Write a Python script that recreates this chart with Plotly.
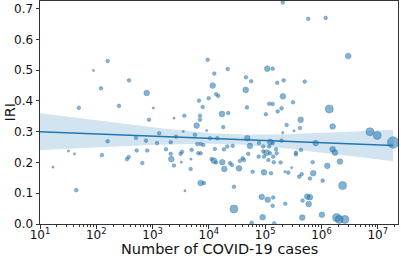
import numpy as np
import plotly.graph_objects as go

# COVID-19 cases (x), IRI (y), relative marker class (1=tiny .. 5=very large)
cases = [159, 89, 381, 121, 785, 49, 253, 1030,
         9530, 21600, 109000, 136000, 12500, 45600, 56600, 164000, 11700, 45100,
         13500, 14700, 9910, 6670, 7760, 47500, 118000, 136000, 167000, 17100,
         22100, 103000, 205000, 583000, 1190000, 2990000, 213000, 504000, 207000,
         312000, 196000, 1380000, 863, 159, 507, 764, 1200, 1310, 32, 41, 126,
         522, 805, 351, 376, 656, 17, 44, 3660, 6950, 6950, 2400, 6070, 18000,
         9140, 3510, 5660, 2610, 10500, 14100, 48100, 2100, 6220, 7150, 7960,
         21200, 26500, 53700, 77600, 92500, 118000, 136000, 122000, 1730, 4940,
         12800, 18500, 92500, 106000, 122000, 156000, 2100, 3150, 3330, 6490,
         7150, 50100, 76700, 95300, 139000, 160000, 2150, 4810, 11200, 12300,
         13400, 17300, 23700, 25700, 35600, 39800, 42000, 114000, 142000, 3240,
         2400, 4750, 18800, 34300, 60000, 95300, 127000, 7150, 8190, 27900, 3760,
         86700, 111000, 139000, 27900, 90300, 57500, 145000, 427000, 241000,
         415000, 325000, 205000, 1580000, 7260000, 9790000, 18800000, 196000,
         789000, 1580000, 1740000, 352000, 352000, 432000, 188000, 698000,
         2130000, 1270000, 296000, 225000, 257000, 714000, 445000, 403000,
         625000, 1050000, 2380000, 560000, 625000, 463000, 593000, 228000,
         456000, 1020000, 1860000, 2070000, 2610000, 136000]
iri = [0.530, 0.499, 0.467, 0.441, 0.426, 0.378, 0.384, 0.377,
       0.534, 0.504, 0.505, 0.505, 0.489, 0.477, 0.464, 0.459, 0.450, 0.436,
       0.422, 0.416, 0.409, 0.401, 0.380, 0.379, 0.391, 0.390, 0.366, 0.358,
       0.361, 0.357, 0.720, 0.667, 0.670, 0.546, 0.467, 0.463, 0.415,
       0.396, 0.376, 0.374, 0.339, 0.269, 0.280, 0.271, 0.263, 0.295, 0.237, 0.228, 0.224,
       0.239, 0.239, 0.211, 0.218, 0.198, 0.185, 0.110, 0.352, 0.352, 0.339, 0.344, 0.320, 0.315,
       0.304, 0.301, 0.290, 0.284, 0.279, 0.279, 0.279, 0.266, 0.260, 0.260, 0.257,
       0.252, 0.254, 0.254, 0.263, 0.252, 0.252, 0.263, 0.267, 0.243, 0.241,
       0.244, 0.243, 0.236, 0.232, 0.230, 0.243, 0.228, 0.228, 0.235, 0.230,
       0.230, 0.228, 0.219, 0.219, 0.219, 0.230, 0.211, 0.211, 0.211, 0.206,
       0.200, 0.201, 0.198, 0.192, 0.205, 0.214, 0.208, 0.208, 0.201, 0.201,
       0.190, 0.179, 0.179, 0.181, 0.170, 0.168, 0.165, 0.133, 0.133, 0.121, 0.108,
       0.088, 0.079, 0.086, 0.049, 0.022, 0.004, 0.002, 0.339, 0.322,
       0.312, 0.303, 0.297, 0.317, 0.300, 0.288, 0.265, 0.271,
       0.263, 0.243, 0.232, 0.232, 0.226, 0.241, 0.200, 0.201,
       0.203, 0.189, 0.183, 0.170, 0.167, 0.165, 0.162, 0.154,
       0.148, 0.141, 0.125, 0.089, 0.087, 0.076, 0.065, 0.066,
       0.021, 0.030, 0.021, 0.015, 0.015, 0.059]
size_class = [2, 1, 2, 2, 3, 2, 2, 1,
              2, 2, 3, 2, 2, 2, 2, 2, 3, 3,
              2, 2, 2, 2, 2, 2, 2, 2, 2, 3,
              2, 2, 2, 2, 2, 3, 2, 2, 3,
              2, 2, 4, 2, 2, 2, 2, 2, 2, 1, 1, 2,
              2, 2, 2, 2, 2, 1, 2, 2, 2, 2, 1, 3, 2,
              1, 1, 2, 2, 2, 2, 3, 2, 2, 2, 2,
              2, 2, 3, 2, 2, 2, 2, 3, 2, 2,
              2, 2, 2, 3, 2, 2, 2, 2, 2, 2,
              2, 2, 2, 2, 2, 2, 3, 1, 2, 3,
              2, 3, 2, 2, 2, 2, 2, 2, 2, 1,
              2, 2, 3, 3, 2, 3, 2, 3, 2, 2, 1,
              3, 3, 2, 4, 3, 2, 2, 3, 2,
              2, 1, 1, 3, 4, 4, 5, 2,
              3, 3, 3, 2, 2, 2, 2, 2,
              3, 3, 1, 1, 2, 3, 2, 2,
              2, 2, 4, 3, 3, 2, 3, 2,
              3, 3, 4, 4, 4, 2]

# regression line and CI band (log10 cases)
fit_intercept = 0.307
fit_slope = -0.0071
ci_center = 4.4
ci_min_halfwidth = 0.016
ci_spread = 0.017

x_tick_vals = [10, 100, 1000, 10000, 100000, 1000000, 10000000]
x_tick_text = ["10<sup>1</sup>", "10<sup>2</sup>", "10<sup>3</sup>", "10<sup>4</sup>",
               "10<sup>5</sup>", "10<sup>6</sup>", "10<sup>7</sup>"]
y_tick_vals = [0.0, 0.1, 0.2, 0.3, 0.4, 0.5, 0.6, 0.7]

BLUE = "#1f77b4"
diam = {1: 2.2, 2: 3.6, 3: 5.6, 4: 8.0, 5: 11.5}

lx = np.log10(np.array(cases, dtype=float))
gx = np.linspace(1.0, lx.max(), 100)
gy = fit_intercept + fit_slope * gx
hw = np.sqrt(ci_min_halfwidth ** 2 + (ci_spread * (gx - ci_center)) ** 2)
gxx = 10 ** gx

fig = go.Figure()
fig.add_trace(go.Scatter(
    x=list(gxx) + list(gxx[::-1]), y=list(gy + hw) + list((gy - hw)[::-1]),
    fill="toself", fillcolor="rgba(31,119,180,0.2)", line=dict(width=0),
    mode="lines", hoverinfo="skip", showlegend=False))
fig.add_trace(go.Scatter(
    x=cases, y=iri, mode="markers", showlegend=False,
    marker=dict(size=[diam[c] for c in size_class], color="rgba(31,119,180,0.78)",
                line=dict(color="rgba(25,95,150,0.9)", width=0.6))))
fig.add_trace(go.Scatter(x=gxx, y=gy, mode="lines", showlegend=False,
                         line=dict(color=BLUE, width=1.5)))

axis_common = dict(showline=True, linecolor="#333", linewidth=1, mirror=True,
                   ticks="outside", ticklen=3.5, tickcolor="#333", showgrid=False,
                   zeroline=False, automargin=False,
                   tickfont=dict(family="DejaVu Sans", size=12, color="#111"))
fig.update_xaxes(type="log", range=[1, 7.36], tickvals=x_tick_vals, ticktext=x_tick_text,
                 ticklabelstandoff=-4,
                 minor=dict(ticks="outside", ticklen=2, tickcolor="#333", dtick="D1", showgrid=False),
                 **axis_common)
fig.update_yaxes(range=[0, 0.725], tickvals=y_tick_vals, tickformat=".1f", **axis_common)

title_font = dict(family="DejaVu Sans", size=14.5, color="#111")
fig.add_annotation(text="Number of COVID-19 cases", xref="paper", yref="paper",
                   x=0.5, y=0, xanchor="center", yanchor="middle", yshift=-25,
                   showarrow=False, font=title_font)
fig.add_annotation(text="IRI", xref="paper", yref="paper", textangle=-90,
                   x=0, y=0.5, xanchor="center", yanchor="middle", xshift=-31,
                   showarrow=False, font=title_font)
fig.update_layout(width=401, height=257, margin=dict(l=40, r=3, t=1, b=33),
                  plot_bgcolor="white", paper_bgcolor="white")
fig.write_html("out.html", config={"displayModeBar": False},
               post_script="document.body.style.margin='0';")
